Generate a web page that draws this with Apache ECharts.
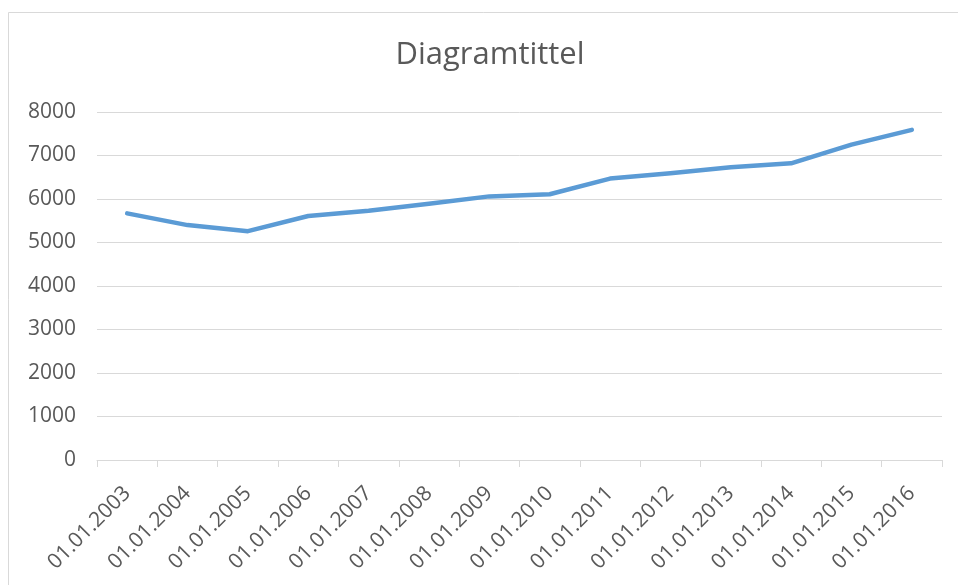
<!DOCTYPE html>
<html>
<head>
<meta charset="utf-8">
<script src="https://cdn.jsdelivr.net/npm/echarts@6/dist/echarts.min.js"></script>
<style>
html,body{margin:0;padding:0;background:#fff;}
#chart{width:958px;height:585px;}
</style>
</head>
<body>
<div id="chart"></div>
<script>
var categories = ['01.01.2003','01.01.2004','01.01.2005','01.01.2006','01.01.2007','01.01.2008','01.01.2009','01.01.2010','01.01.2011','01.01.2012','01.01.2013','01.01.2014','01.01.2015','01.01.2016'];
var values = [5670, 5400, 5260, 5610, 5730, 5890, 6060, 6110, 6470, 6590, 6730, 6820, 7250, 7590];
var yTicks = [0, 1000, 2000, 3000, 4000, 5000, 6000, 7000, 8000];
var titleText = 'Diagramtittel';

var FONT = 'Open Sans';
var TXT = '#595959';
var chart = echarts.init(document.getElementById('chart'), null, {renderer: 'canvas'});
chart.setOption({
  animation: false,
  backgroundColor: '#fff',
  title: {
    text: titleText,
    left: 485,
    top: 35,
    textAlign: 'center',
    textStyle: {fontFamily: FONT, fontSize: 31, fontWeight: 'normal', color: TXT}
  },
  graphic: [{
    type: 'rect',
    shape: {x: 8.5, y: 12.5, width: 1000, height: 700},
    style: {fill: 'none', stroke: '#d9d9d9', lineWidth: 1},
    silent: true
  }],
  grid: {left: 97, right: 16, top: 112, bottom: 125, containLabel: false},
  xAxis: {
    type: 'category',
    data: categories,
    boundaryGap: true,
    axisLine: {lineStyle: {color: '#d9d9d9', width: 1}},
    axisTick: {show: true, length: 7, lineStyle: {color: '#d9d9d9'}},
    axisLabel: {rotate: 45, interval: 0, margin: 30, fontFamily: FONT, fontSize: 21, color: TXT}
  },
  yAxis: {
    type: 'value',
    min: yTicks[0],
    max: yTicks[yTicks.length - 1],
    interval: 1000,
    axisLine: {show: false},
    axisTick: {show: false},
    splitLine: {lineStyle: {color: '#d9d9d9', width: 1}},
    axisLabel: {margin: 21, fontFamily: FONT, fontSize: 21, color: TXT, formatter: function (v) { return String(v); }}
  },
  series: [{
    type: 'line',
    data: values,
    symbol: 'none',
    smooth: false,
    lineStyle: {color: '#5b9bd5', width: 4.5, cap: 'round', join: 'round'}
  }]
});
</script>
</body>
</html>
